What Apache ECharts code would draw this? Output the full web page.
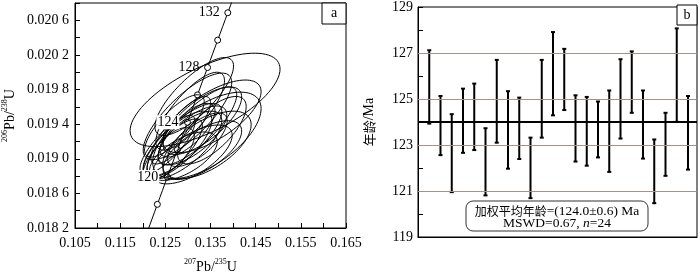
<!DOCTYPE html>
<html><head><meta charset="utf-8">
<script src="https://cdn.jsdelivr.net/npm/echarts@6/dist/echarts.min.js"></script>
<style>html,body{margin:0;padding:0;background:#fff}#c{width:700px;height:279px}</style>
</head><body><div id="c"></div><script>
// ---- Panel a: U-Pb concordia data (error ellipses) ----
const ellCX   = [0.1338,0.1342,0.1299,0.1288,0.1277,0.1321,0.1310,0.1266,0.1332,0.1310,0.1284,0.1321,0.1255,0.1305,0.1353,0.1292,0.1332,0.1270,0.1314,0.1262,0.1342,0.1299,0.1290,0.1353];
const ellCY   = [0.01968,0.01927,0.01949,0.01922,0.01916,0.01938,0.01927,0.01910,0.01944,0.01905,0.01933,0.01922,0.01916,0.01955,0.01933,0.01916,0.01910,0.01938,0.01972,0.01908,0.01916,0.01933,0.01903,0.01949];
const ellHalfX= [0.0166,0.0120,0.0098,0.0087,0.0076,0.0087,0.0076,0.0066,0.0087,0.0088,0.0066,0.0066,0.0061,0.0076,0.0076,0.0083,0.0087,0.0066,0.0087,0.0052,0.0098,0.0061,0.0075,0.0109];
const ellHalfY= [0.00054,0.00050,0.00050,0.00042,0.00039,0.00045,0.00034,0.00036,0.00039,0.00034,0.00039,0.00031,0.00034,0.00045,0.00039,0.00039,0.00034,0.00036,0.00045,0.00028,0.00039,0.00031,0.00028,0.00042];
const ellRho  = [0.66,0.62,0.78,0.78,0.74,0.8,0.7,0.78,0.7,0.65,0.82,0.7,0.8,0.78,0.7,0.72,0.65,0.78,0.78,0.65,0.6,0.72,0.6,0.68];
const concordiaMarkAges  = [116,118,120,122,124,126,128,130,132,134];
const concordiaLabelAges = [120,124,128,132];
const concordiaAgeRange  = [110,140];
const xTickLabels = ['0.105','0.115','0.125','0.135','0.145','0.155','0.165'];
const yTickLabels = ['0.018 2','0.018 6','0.019 0','0.019 4','0.019 8','0.020 2','0.020 6'];

// ---- Panel b: individual ages (2σ bars) ----
const spotIndex = [1,2,3,4,5,6,7,8,9,10,11,12,13,14,15,16,17,18,19,20,21,22,23,24];
const ageLow  = [123.93,122.56,120.95,122.66,122.78,120.81,123.10,121.97,122.39,120.69,123.32,124.29,124.52,122.28,122.10,122.46,121.83,123.28,124.40,122.41,120.47,121.66,124.01,121.93];
const ageHigh = [127.12,125.13,124.34,125.45,125.67,123.73,126.70,125.34,125.06,123.32,126.70,127.91,127.18,125.16,125.09,124.89,125.37,126.73,127.07,125.37,123.24,124.40,128.07,125.13];
const ageTickLabels = [119,121,123,125,127,129];
const gridAges = [121,123,125,127];
const meanAge = 124.0, meanErr = 0.6, mswd = 0.67, nCount = 24;

const SERIF = '"Liberation Serif","Times New Roman",serif';
const CJK = '"Noto Sans CJK SC",sans-serif';
const L238 = 1.55125e-10, L235 = 9.8485e-10;
function conc(t){ return [Math.exp(L235*t*1e6)-1, Math.exp(L238*t*1e6)-1]; }

const concLine = [];
for (let t = concordiaAgeRange[0]; t <= concordiaAgeRange[1]; t += 0.5) concLine.push(conc(t));
const concMarks = concordiaMarkAges.map(conc);
const labelOffsets = {120:[5,-5],124:[3,-1],128:[-1,-5],132:[-4,0]};
const whiteBack = [120,124];
const concLabels = concordiaLabelAges.map(a => ({
  value: conc(a),
  label: {show:true, formatter:String(a), offset:labelOffsets[a], color:'#000', opacity:1,
    backgroundColor: whiteBack.includes(a) ? '#fff' : 'transparent', padding: whiteBack.includes(a) ? [0,1,0,1] : 0}
}));
const ellData = ellCX.map((x,i) => [x, ellCY[i], ellHalfX[i], ellHalfY[i], ellRho[i]]);
const barData = spotIndex.map((k,i) => [k, ageLow[i], ageHigh[i]]);

const chart = echarts.init(document.getElementById('c'), null, {renderer:'canvas'});
const tickStyle = {show:true, inside:true, length:5, lineStyle:{color:'#000'}};
const lblFont = {fontFamily:SERIF, fontSize:14, color:'#000'};
const supRich = {
  n:{fontFamily:SERIF, fontSize:14, color:'#000', lineHeight:16, verticalAlign:'bottom'},
  s:{fontFamily:SERIF, fontSize:8, color:'#000', lineHeight:16, verticalAlign:'top'}
};

chart.setOption({
  animation:false,
  backgroundColor:'#fff',
  grid:[
    {left:71, top:3, width:275, height:233, show:true, borderColor:'#000', borderWidth:1, containLabel:false},
    {left:418, top:5, width:279, height:232, show:true, borderColor:'#000', borderWidth:1, containLabel:false}
  ],
  xAxis:[
    {type:'value', gridIndex:0, min:0.105, max:0.165, interval:0.005,
     axisLine:{lineStyle:{color:'#000'}}, axisTick:tickStyle, splitLine:{show:false},
     axisLabel:{...lblFont, margin:8, formatter:v => {
        const k = Math.round((v-0.105)/0.005); return k%2===0 ? xTickLabels[k/2] : ''; }},
     name:'{s|207}{n|Pb/}{s|235}{n|U}', nameLocation:'middle', nameGap:30,
     nameTextStyle:{rich:supRich}},
    {type:'value', gridIndex:1, min:0, max:24.8,
     axisLine:{lineStyle:{color:'#000'}}, axisTick:{show:false}, axisLabel:{show:false}, splitLine:{show:false}}
  ],
  yAxis:[
    {type:'value', gridIndex:0, min:0.0182, max:0.0208, interval:0.0002,
     axisLine:{lineStyle:{color:'#000'}}, axisTick:tickStyle, splitLine:{show:false},
     axisLabel:{...lblFont, margin:6, formatter:v => {
        const k = Math.round((v-0.0182)/0.0002); return k%2===0 && yTickLabels[k/2] ? yTickLabels[k/2] : ''; }},
     name:'{s|206}{n|Pb/}{s|238}{n|U}', nameLocation:'middle', nameGap:58,
     nameTextStyle:{rich:supRich}},
    {type:'value', gridIndex:1, min:119, max:129, interval:1,
     axisLine:{lineStyle:{color:'#000'}}, axisTick:tickStyle, splitLine:{show:false},
     axisLabel:{...lblFont, margin:5, formatter:v => ageTickLabels.includes(v) ? String(v) : ''},
     name:'{c|年龄}{n|/Ma}', nameLocation:'middle', nameGap:42,
     nameTextStyle:{rich:{c:{fontFamily:CJK, fontSize:13, color:'#000'}, n:{fontFamily:SERIF, fontSize:14, color:'#000'}}}}
  ],
  series:[
    {type:'line', xAxisIndex:0, yAxisIndex:0, data:concLine, showSymbol:false, symbol:'none',
     lineStyle:{color:'#000', width:1}, clip:true, z:2, silent:true},
    {type:'scatter', xAxisIndex:0, yAxisIndex:0, data:concMarks, symbol:'circle', symbolSize:6,
     itemStyle:{color:'#fff', borderColor:'#000', borderWidth:1, opacity:1}, z:3, silent:true},
    {type:'custom', xAxisIndex:0, yAxisIndex:0, data:ellData, clip:true, z:4, silent:true,
     encode:{x:0, y:1},
     renderItem:(params, api) => {
       const cx=api.value(0), cy=api.value(1), a=api.value(2), b=api.value(3), r=api.value(4);
       const q = Math.sqrt(1-r*r), pts=[];
       for (let j=0;j<90;j++){ const t=j/90*2*Math.PI;
         pts.push(api.coord([cx + a*Math.cos(t), cy + b*(r*Math.cos(t) + q*Math.sin(t))])); }
       return {type:'polygon', shape:{points:pts}, style:{fill:null, stroke:'#000', lineWidth:1}};
     }},
    {type:'scatter', xAxisIndex:0, yAxisIndex:0, data:concLabels, symbol:'circle', symbolSize:6,
     itemStyle:{color:'rgba(0,0,0,0)', borderWidth:0, opacity:1}, z:8, silent:true,
     label:{show:true, position:'left', distance:5, fontFamily:SERIF, fontSize:14, color:'#000', opacity:1},
     labelLayout:{hideOverlap:false}},
    {type:'custom', xAxisIndex:1, yAxisIndex:1, data:barData, z:4, silent:true,
     encode:{x:0, y:[1,2]},
     renderItem:(params, api) => {
       const lo = api.coord([api.value(0), api.value(1)]);
       const hi = api.coord([api.value(0), api.value(2)]);
       const st = {stroke:'#000', lineWidth:2};
       return {type:'group', children:[
         {type:'line', shape:{x1:lo[0], y1:lo[1], x2:hi[0], y2:hi[1]}, style:st},
         {type:'line', shape:{x1:lo[0]-2, y1:lo[1], x2:lo[0]+2, y2:lo[1]}, style:st},
         {type:'line', shape:{x1:hi[0]-2, y1:hi[1], x2:hi[0]+2, y2:hi[1]}, style:st}
       ]};
     },
     markLine:{symbol:'none', silent:true, label:{show:false},
       data:[...gridAges.map(g => ({yAxis:g, lineStyle:{color:'#a0928c', width:1, type:'solid'}})),
             {yAxis:meanAge, lineStyle:{color:'#000', width:2, type:'solid'}}]}}
  ],
  graphic:[
    {type:'rect', shape:{x:322, y:3, width:24, height:21}, style:{fill:'#fff', stroke:'#000', lineWidth:1}, z:10},
    {type:'text', x:334, y:13.5, style:{text:'a', font:'14px '+SERIF, fill:'#000', align:'center', verticalAlign:'middle'}, z:11},
    {type:'rect', shape:{x:677, y:5, width:20, height:20}, style:{fill:'#fff', stroke:'#000', lineWidth:1}, z:10},
    {type:'text', x:687, y:15, style:{text:'b', font:'14px '+SERIF, fill:'#000', align:'center', verticalAlign:'middle'}, z:11},
    {type:'rect', shape:{x:466, y:201, width:182, height:30, r:7}, style:{fill:'#fff', stroke:'#333', lineWidth:1}, z:10},
    {type:'text', x:557, y:217, z:11, style:{
      text:'{c|加权平均年龄}{t|=(' + meanAge.toFixed(1) + '±' + meanErr.toFixed(1) + ') Ma}\n{t|MSWD=' + mswd.toFixed(2) + ', }{i|n}{t|=' + nCount + '}',
      align:'center', verticalAlign:'middle',
      rich:{c:{fontFamily:CJK, fontSize:12, fill:'#000', lineHeight:12},
            t:{fontFamily:SERIF, fontSize:13.5, fill:'#000', lineHeight:12},
            i:{fontFamily:SERIF, fontSize:13.5, fontStyle:'italic', fill:'#000', lineHeight:12}}}}
  ]
});
</script></body></html>
